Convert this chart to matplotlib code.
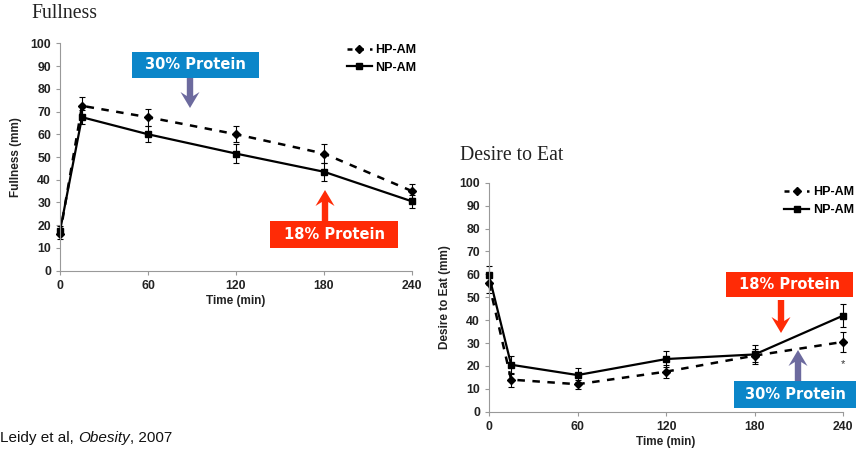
import matplotlib.pyplot as plt
from matplotlib.patches import Rectangle, Polygon
from matplotlib.lines import Line2D

# tempo das medidas (min)
tempos = [0, 15, 60, 120, 180, 240]

# Fullness (mm)
sac_hp = [16, 72.5, 67.5, 60, 51.5, 35]
sac_hp_err = [2, 4, 3.7, 3.5, 4, 3]
sac_np = [17.5, 67.5, 60, 51.5, 43.5, 30.5]
sac_np_err = [2, 3, 3.5, 4, 4, 3]

# Desire to Eat (mm)
des_hp = [56, 14, 12, 17.5, 24.5, 30.5]
des_hp_err = [4, 3, 2, 3, 3, 4.5]
des_np = [59.5, 20.5, 16, 23, 25, 42]
des_np_err = [4, 4, 3, 3.5, 4, 5]

W, H = 856, 455
AZUL = '#0B86C9'
VERMELHO = '#FF2B06'
SETA_AZUL = '#6C6A9E'

plt.rcParams['font.family'] = ['Liberation Sans', 'DejaVu Sans']
fig = plt.figure(figsize=(W / 100, H / 100), dpi=100)


def caixa(px, py, pw, ph):
    # px, py = canto superior esquerdo em pixels
    return [px / W, 1 - (py + ph) / H, pw / W, ph / H]


def desenha(ax, hp, hp_err, np_, np_err, ylabel, pos_leg):
    ax.errorbar(tempos, hp, yerr=hp_err, color='black', lw=1.8, ls=(0, (3, 3)),
                marker='D', ms=4, capsize=2, elinewidth=0.8, capthick=0.8, clip_on=False)
    ax.errorbar(tempos, np_, yerr=np_err, color='black', lw=1.6, ls='-',
                marker='s', ms=4.5, capsize=2, elinewidth=0.8, capthick=0.8, clip_on=False)
    ax.set_xlim(0, 240)
    ax.set_ylim(0, 100)
    ax.set_xticks([0, 60, 120, 180, 240])
    ax.set_yticks(range(0, 101, 10))
    for s in ['top', 'right']:
        ax.spines[s].set_visible(False)
    for s in ['left', 'bottom']:
        ax.spines[s].set_color('#999999')
        ax.spines[s].set_linewidth(0.8)
    ax.tick_params(colors='#999999', labelcolor='#222222', labelsize=8.8, length=3, width=0.8)
    for t in ax.get_xticklabels() + ax.get_yticklabels():
        t.set_fontweight('bold')
    ax.set_xlabel('Time (min)', fontsize=8.5, fontweight='bold', color='#222222', labelpad=2)
    ax.set_ylabel(ylabel, fontsize=8.5, fontweight='bold', color='#222222', labelpad=6)
    alcas = [Line2D([], [], color='black', lw=1.8, ls=(0, (2, 2.5)), marker='D', ms=4),
             Line2D([], [], color='black', lw=1.6, ls='-', marker='s', ms=4.5)]
    ax.legend(alcas, ['HP-AM', 'NP-AM'], loc='upper right', bbox_to_anchor=pos_leg,
              frameon=False, handlelength=2.0, handletextpad=0.3, labelspacing=0.45,
              prop={'weight': 'bold', 'size': 9})


ax1 = fig.add_axes(caixa(60, 43.3, 352, 227.4))
desenha(ax1, sac_hp, sac_hp_err, sac_np, sac_np_err, 'Fullness (mm)', (1.045, 1.046))

ax2 = fig.add_axes(caixa(489, 182.7, 354.3, 229))
desenha(ax2, des_hp, des_hp_err, des_np, des_np_err, 'Desire to Eat (mm)', (1.063, 1.033))
ax2.text(240, 21, '*', ha='center', va='center', fontsize=8, color='#333333')

fig.text(31 / W, 1 - 14 / H, 'Fullness', family='Liberation Serif', fontsize=14.2,
         va='center', ha='left', color='#222222')
fig.text(460 / W, 1 - 155 / H, 'Desire to Eat', family='Liberation Serif', fontsize=14.2,
         va='center', ha='left', color='#222222')

# referência, com o nome da revista em itálico
ref_y = 1 - 438 / H
rend = fig.canvas.get_renderer()
x = 0
for parte, estilo in [('Leidy et al, ', 'normal'), ('Obesity', 'italic'), (', 2007', 'normal')]:
    t = fig.text(x, ref_y, parte, fontsize=11, style=estilo, va='center', ha='left',
                 color='#111111')
    x += t.get_window_extent(rend).width / W


def rotulo(px, py, pw, ph, cor, texto):
    r = Rectangle((px / W, 1 - (py + ph) / H), pw / W, ph / H, transform=fig.transFigure,
                  facecolor=cor, edgecolor='none')
    fig.patches.append(r)
    fig.text((px + pw / 2) / W, 1 - (py + ph / 2) / H, texto, family='DejaVu Sans',
             fontweight='bold', fontsize=10.5, color='white', ha='center', va='center')


def seta(x, y0, y1, cor, haste=3.2, cab=9.5, comp=16, entalhe=4):
    # seta vertical de y0 até a ponta em y1 (pixels, de cima para baixo)
    d = 1 if y1 > y0 else -1
    pts = [(x - haste, y0), (x - haste, y1 - d * (comp - entalhe)), (x - cab, y1 - d * comp),
           (x, y1), (x + cab, y1 - d * comp), (x + haste, y1 - d * (comp - entalhe)),
           (x + haste, y0)]
    pts = [(px / W, 1 - py / H) for px, py in pts]
    fig.patches.append(Polygon(pts, closed=True, transform=fig.transFigure,
                               facecolor=cor, edgecolor='none'))


rotulo(132, 52, 127, 26, AZUL, '30% Protein')
seta(190, 78, 108, SETA_AZUL)
rotulo(270, 221, 128, 27, VERMELHO, '18% Protein')
seta(325, 221, 190, VERMELHO)

rotulo(726, 272, 127, 25, VERMELHO, '18% Protein')
seta(781, 300, 333, VERMELHO)
rotulo(734, 381, 122, 27, AZUL, '30% Protein')
seta(798, 381, 350, SETA_AZUL)

fig.savefig('out.png', dpi=100)
